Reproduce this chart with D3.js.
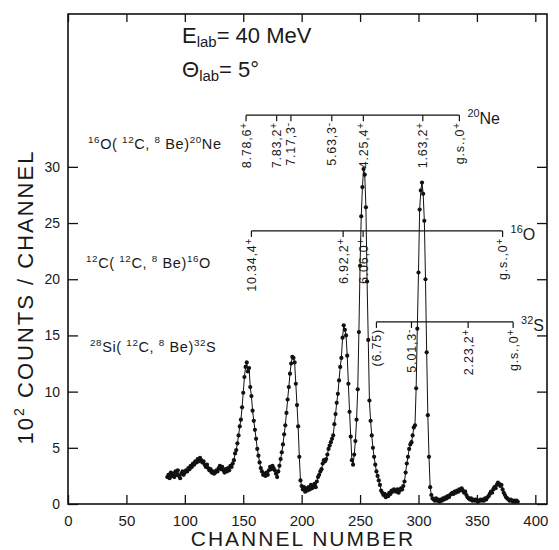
<!DOCTYPE html>
<html>
<head>
<meta charset="utf-8">
<script src="https://cdn.jsdelivr.net/npm/d3@7"></script>
<style>
  body { margin: 0; background: #fff; }
  text { font-family: "Liberation Sans", Arial, sans-serif; fill: #1a1a1a; }
</style>
</head>
<body>
<script>
// Spectrum: counts (x100) per channel, starting at channel 85
var firstChannel = 85;
var counts = [
  2.4, 2.6, 2.3, 2.8, 2.5, 2.7, 2.4, 2.9, 2.6, 3.0,   // 85-94
  2.5, 2.3, 2.7, 2.9, 2.6, 2.8, 3.0, 2.9, 3.2, 3.1,   // 95-104
  3.4, 3.3, 3.6, 3.5, 3.8, 3.7, 4.0, 3.8, 4.1, 3.9,   // 105-114
  3.7, 3.8, 3.5, 3.3, 3.5, 3.2, 3.0, 3.1, 2.8, 2.9,   // 115-124
  2.7, 2.8, 3.0, 2.9, 3.2, 3.4, 3.1, 3.3, 3.0, 2.8,   // 125-134
  3.1, 2.9, 3.2, 3.0, 3.4, 3.3, 3.6, 3.9, 4.5, 4.8,   // 135-144
  5.4, 6.1, 6.9, 7.5, 8.6, 9.9, 11.3, 12.2, 12.6, 11.8, // 145-154
  12.1, 10.4, 9.6, 8.3, 7.4, 6.6, 5.8, 4.9, 4.3, 3.7, // 155-164
  3.2, 2.9, 2.6, 2.7, 2.5, 2.8, 2.6, 3.0, 3.3, 3.1,   // 165-174
  3.4, 3.2, 3.0, 2.7, 2.4, 2.9, 3.4, 4.0, 4.6, 5.3,   // 175-184
  6.2, 7.0, 8.1, 9.3, 10.4, 11.6, 12.5, 13.1, 13.0, 12.6, // 185-194
  10.7, 8.8, 6.9, 4.2, 2.1, 1.6, 1.3, 1.5, 1.1, 1.4,  // 195-204
  1.2, 1.5, 1.3, 1.7, 1.4, 1.6, 1.8, 1.5, 2.0, 2.4,   // 205-214
  2.6, 2.9, 3.1, 3.6, 3.9, 3.8, 4.0, 4.4, 4.9, 5.2,   // 215-224
  5.5, 5.8, 6.1, 7.1, 8.0, 9.0, 9.8, 11.0, 12.2, 13.0, // 225-234
  14.8, 15.9, 15.5, 15.0, 13.2, 10.7, 8.2, 6.0, 3.9, 3.5, // 235-244
  4.4, 5.6, 7.5, 10.2, 15.3, 21.2, 25.6, 28.2, 29.8, 29.3, // 245-254
  26.4, 19.8, 14.6, 9.2, 7.4, 6.1, 5.0, 4.2, 3.5, 2.9, // 255-264
  2.5, 2.1, 1.7, 1.2, 1.0, 0.8, 0.9, 0.6, 0.8, 0.7,   // 265-274
  1.0, 0.9, 1.2, 1.1, 1.3, 1.2, 1.1, 1.3, 1.0, 1.2,   // 275-284
  1.4, 1.3, 1.6, 2.0, 2.8, 3.6, 4.2, 4.9, 5.3, 5.5,   // 285-294
  6.1, 6.8, 7.0, 10.3, 15.6, 20.6, 26.2, 27.9, 28.6, 27.6, // 295-304
  25.2, 20.0, 13.5, 7.9, 4.2, 1.5, 0.8, 0.5, 0.4, 0.3, // 305-314
  0.5, 0.3, 0.4, 0.2, 0.4, 0.3, 0.5, 0.4, 0.6, 0.5,   // 315-324
  0.7, 0.6, 0.8, 0.9, 1.0, 0.9, 1.1, 1.0, 1.2, 1.1,   // 325-334
  1.3, 1.2, 1.4, 1.2, 1.0, 1.1, 0.8, 0.6, 0.5, 0.4,   // 335-344
  0.5, 0.3, 0.4, 0.3, 0.4, 0.3, 0.2, 0.3, 0.4, 0.3,   // 345-354
  0.4, 0.3, 0.5, 0.4, 0.6, 0.7, 0.9, 1.1, 1.0, 1.3,   // 355-364
  1.5, 1.4, 1.7, 1.9, 1.8, 1.6, 1.7, 1.3, 1.0, 0.8,   // 365-374
  0.6, 0.5, 0.4, 0.3, 0.4, 0.3, 0.2, 0.3, 0.2, 0.3,   // 375-384
  0.2                                                 // 385
];

var xTicks = [0, 50, 100, 150, 200, 250, 300, 350, 400];
var yTicks = [0, 5, 10, 15, 20, 25, 30];

// Level markers: channel of each state, label, parity sign
var neLevels = [
  {ch: 152.4, label: "8.78,6", sign: "+"},
  {ch: 178.6, label: "7.83,2", sign: "+"},
  {ch: 190.8, label: "7.17,3", sign: "-"},
  {ch: 225.8, label: "5.63,3", sign: "-"},
  {ch: 252.8, label: "4.25,4", sign: "+"},
  {ch: 303.7, label: "1.63,2", sign: "+"},
  {ch: 335.0, label: "g.s.,0", sign: "+"}
];
var oLevels = [
  {ch: 157.0, label: "10.34,4", sign: "+"},
  {ch: 235.5, label: "6.92,2", sign: "+"},
  {ch: 252.6, label: "6.06,0", sign: "+"},
  {ch: 372.0, label: "g.s.,0", sign: "+"}
];
var sLevels = [
  {ch: 264.0, label: "(6.75)", sign: ""},
  {ch: 294.0, label: "5.01,3", sign: "-"},
  {ch: 342.5, label: "2.23,2", sign: "+"},
  {ch: 381.0, label: "g.s.,0", sign: "+"}
];
// bracket heights (10^2 counts) and residual nucleus names
var brackets = [
  {levels: neLevels, level: 34.6, mass: "20", name: "Ne"},
  {levels: oLevels, level: 24.3, mass: "16", name: "O"},
  {levels: sLevels, level: 16.2, mass: "32", name: "S"}
];

var W = 559, H = 550;
var svg = d3.select("body").append("svg")
  .attr("width", W).attr("height", H);

var x = d3.scaleLinear().domain([0, 410]).range([68, 547]);
var y = d3.scaleLinear().domain([0, 43.6]).range([504, 14]);

// frame
svg.append("rect")
  .attr("x", x(0)).attr("y", y(43.6))
  .attr("width", x(410) - x(0)).attr("height", y(0) - y(43.6))
  .attr("fill", "none").attr("stroke", "#111").attr("stroke-width", 1.6);

// axes, ticks point inward
var gx = svg.append("g").attr("transform", "translate(0," + y(0) + ")")
  .call(d3.axisBottom(x).tickValues(xTicks).tickSizeInner(-9).tickSizeOuter(0).tickPadding(11));
var gy = svg.append("g").attr("transform", "translate(" + x(0) + ",0)")
  .call(d3.axisLeft(y).tickValues(yTicks).tickSizeInner(-10).tickSizeOuter(0).tickPadding(8));
svg.append("g").attr("transform", "translate(0," + y(43.6) + ")")
  .call(d3.axisTop(x).tickValues(xTicks).tickSizeInner(-8).tickSizeOuter(0).tickFormat(""));
svg.append("g").attr("transform", "translate(" + x(410) + ",0)")
  .call(d3.axisRight(y).tickValues(yTicks).tickSizeInner(-10).tickSizeOuter(0).tickFormat(""));

svg.selectAll(".domain").remove();
svg.selectAll(".tick line").attr("stroke", "#111").attr("stroke-width", 1.3);
gx.selectAll("text").attr("font-size", 15).attr("font-family", "Liberation Sans, Arial, sans-serif").attr("fill", "#1a1a1a");
gy.selectAll("text").attr("font-size", 14).attr("font-family", "Liberation Sans, Arial, sans-serif").attr("fill", "#1a1a1a");

// axis titles
svg.append("text")
  .attr("x", 303).attr("y", 546)
  .attr("text-anchor", "middle")
  .attr("font-size", 21).attr("letter-spacing", 2)
  .text("CHANNEL NUMBER");

var yt = svg.append("text")
  .attr("transform", "translate(33,297) rotate(-90)")
  .attr("text-anchor", "middle")
  .attr("font-size", 22).attr("letter-spacing", 2);
yt.append("tspan").text("10");
yt.append("tspan").attr("dy", -9).attr("font-size", 14).text("2");
yt.append("tspan").attr("dy", 9).text(" COUNTS / CHANNEL");

// helper: text with superscripts / subscripts; parts = [text, shift]
function richText(g, px, py, size, parts, spacing) {
  var t = g.append("text").attr("x", px).attr("y", py).attr("font-size", size)
    .attr("letter-spacing", spacing || 0);
  var cur = 0;
  parts.forEach(function(p) {
    var shift = p[1] || 0;
    t.append("tspan")
      .attr("dy", shift - cur)
      .attr("font-size", shift ? size * 0.68 : size)
      .text(p[0]);
    cur = shift;
  });
  return t;
}

// beam conditions
richText(svg, 182, 43, 22, [["E"], ["lab", 4], ["= 40 MeV"]]);
richText(svg, 182, 77, 22, [["\u0398"], ["lab", 4], ["= 5\u00b0"]]);

// reactions
richText(svg, 88, 149, 14.5, [["16", -6], ["O( "], ["12", -6], ["C, "], ["8", -6], [" Be)"], ["20", -6], ["Ne"]], 0.6);
richText(svg, 86, 268, 14.5, [["12", -6], ["C( "], ["12", -6], ["C, "], ["8", -6], [" Be)"], ["16", -6], ["O"]], 0.6);
richText(svg, 90, 352, 14.5, [["28", -6], ["Si( "], ["12", -6], ["C, "], ["8", -6], [" Be)"], ["32", -6], ["S"]], 0.6);

// spectrum
var pts = counts.map(function(c, i) { return {ch: firstChannel + i, v: c}; });
var line = d3.line().x(function(d) { return x(d.ch); }).y(function(d) { return y(d.v); });
svg.append("path").datum(pts)
  .attr("d", line)
  .attr("fill", "none").attr("stroke", "#111").attr("stroke-width", 1);
svg.selectAll("circle.pt").data(pts).enter().append("circle")
  .attr("class", "pt")
  .attr("cx", function(d) { return x(d.ch); })
  .attr("cy", function(d) { return y(d.v); })
  .attr("r", 2.1).attr("fill", "#111");

// level brackets
brackets.forEach(function(b) {
  var g = svg.append("g");
  var ly = y(b.level);
  var chs = b.levels.map(function(l) { return l.ch; });
  var x0 = x(d3.min(chs)), x1 = x(d3.max(chs));
  g.append("line").attr("x1", x0).attr("x2", x1).attr("y1", ly).attr("y2", ly)
    .attr("stroke", "#111").attr("stroke-width", 1.2);
  g.selectAll("line.tk").data(b.levels).enter().append("line")
    .attr("class", "tk")
    .attr("x1", function(d) { return x(d.ch); }).attr("x2", function(d) { return x(d.ch); })
    .attr("y1", ly).attr("y2", ly + 6)
    .attr("stroke", "#111").attr("stroke-width", 1.2);
  b.levels.forEach(function(l) {
    var t = g.append("text")
      .attr("transform", "translate(" + (x(l.ch) + 4.5) + "," + (ly + 7) + ") rotate(-90)")
      .attr("text-anchor", "end")
      .attr("font-size", 12.5).attr("letter-spacing", 0.8);
    t.append("tspan").text(l.label);
    if (l.sign) t.append("tspan").attr("dy", -4).attr("font-size", 10).text(l.sign);
  });
  richText(g, x1 + 8, ly + 9, 16, [[b.mass, -7], [b.name]]);
});
</script>
</body>
</html>
